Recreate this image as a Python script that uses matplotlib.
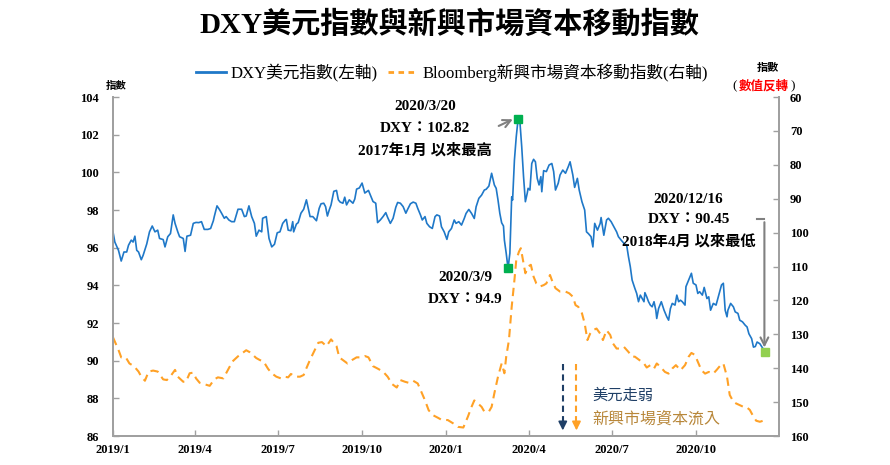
import pandas as pd
import matplotlib
matplotlib.use('Agg')
import matplotlib.pyplot as plt
from matplotlib.lines import Line2D

plt.rcParams['font.family'] = ['Liberation Serif', 'Noto Sans CJK TC']

# DXY (left axis)
dxy_dates = [
    '2019-01-01', '2019-01-03', '2019-01-07', '2019-01-10', '2019-01-13', '2019-01-16', '2019-01-18',
    '2019-01-21', '2019-01-23', '2019-01-25', '2019-01-27', '2019-01-29', '2019-02-01', '2019-02-03',
    '2019-02-07', '2019-02-10', '2019-02-13', '2019-02-16', '2019-02-19', '2019-02-21', '2019-02-25',
    '2019-02-27', '2019-03-02', '2019-03-05', '2019-03-08', '2019-03-10', '2019-03-13', '2019-03-15',
    '2019-03-19', '2019-03-21', '2019-03-23', '2019-03-27', '2019-03-30', '2019-04-02', '2019-04-05',
    '2019-04-08', '2019-04-11', '2019-04-15', '2019-04-18', '2019-04-21', '2019-04-22', '2019-04-25',
    '2019-04-28', '2019-04-30', '2019-05-03', '2019-05-05', '2019-05-08', '2019-05-11', '2019-05-14',
    '2019-05-18', '2019-05-22', '2019-05-25', '2019-05-27', '2019-05-30', '2019-06-02', '2019-06-05',
    '2019-06-07', '2019-06-10', '2019-06-13', '2019-06-14', '2019-06-18', '2019-06-21', '2019-06-24',
    '2019-06-27', '2019-06-30', '2019-07-03', '2019-07-06', '2019-07-09', '2019-07-10', '2019-07-12',
    '2019-07-15', '2019-07-17', '2019-07-18', '2019-07-21', '2019-07-23', '2019-07-26', '2019-07-29',
    '2019-08-01', '2019-08-03', '2019-08-05', '2019-08-08', '2019-08-12', '2019-08-15', '2019-08-17',
    '2019-08-20', '2019-08-22', '2019-08-24', '2019-08-26', '2019-08-28', '2019-08-31', '2019-09-03',
    '2019-09-05', '2019-09-07', '2019-09-10', '2019-09-12', '2019-09-14', '2019-09-17', '2019-09-19',
    '2019-09-21', '2019-09-23', '2019-09-25', '2019-09-28', '2019-10-01', '2019-10-04', '2019-10-08',
    '2019-10-10', '2019-10-13', '2019-10-16', '2019-10-18', '2019-10-21', '2019-10-24', '2019-10-27',
    '2019-10-29', '2019-11-01', '2019-11-04', '2019-11-07', '2019-11-09', '2019-11-12', '2019-11-15',
    '2019-11-18', '2019-11-20', '2019-11-23', '2019-11-26', '2019-11-29', '2019-12-01', '2019-12-04',
    '2019-12-06', '2019-12-09', '2019-12-11', '2019-12-14', '2019-12-17', '2019-12-20', '2019-12-22',
    '2019-12-25', '2019-12-27', '2019-12-30', '2020-01-02', '2020-01-04', '2020-01-07', '2020-01-10',
    '2020-01-12', '2020-01-15', '2020-01-18', '2020-01-21', '2020-01-23', '2020-01-26', '2020-01-29',
    '2020-02-01', '2020-02-03', '2020-02-06', '2020-02-09', '2020-02-12', '2020-02-14', '2020-02-17',
    '2020-02-20', '2020-02-23', '2020-02-25', '2020-02-27', '2020-02-29', '2020-03-02', '2020-03-04',
    '2020-03-05', '2020-03-07', '2020-03-09', '2020-03-11', '2020-03-13', '2020-03-14', '2020-03-16',
    '2020-03-18', '2020-03-20', '2020-03-22', '2020-03-24', '2020-03-26', '2020-03-28', '2020-03-30',
    '2020-03-31', '2020-04-02', '2020-04-04', '2020-04-06', '2020-04-08', '2020-04-10', '2020-04-12',
    '2020-04-14', '2020-04-15', '2020-04-17', '2020-04-20', '2020-04-23', '2020-04-26', '2020-04-28',
    '2020-04-30', '2020-05-03', '2020-05-05', '2020-05-08', '2020-05-11', '2020-05-14', '2020-05-16',
    '2020-05-19', '2020-05-21', '2020-05-24', '2020-05-26', '2020-05-29', '2020-06-01', '2020-06-03',
    '2020-06-05', '2020-06-08', '2020-06-10', '2020-06-12', '2020-06-15', '2020-06-18', '2020-06-19',
    '2020-06-22', '2020-06-25', '2020-06-27', '2020-06-30', '2020-07-03', '2020-07-06', '2020-07-08',
    '2020-07-11', '2020-07-14', '2020-07-17', '2020-07-19', '2020-07-21', '2020-07-23', '2020-07-26',
    '2020-07-28', '2020-07-30', '2020-08-01', '2020-08-03', '2020-08-05', '2020-08-06', '2020-08-08',
    '2020-08-10', '2020-08-12', '2020-08-14', '2020-08-16', '2020-08-18', '2020-08-19', '2020-08-21',
    '2020-08-24', '2020-08-27', '2020-08-30', '2020-09-01', '2020-09-03', '2020-09-05', '2020-09-08',
    '2020-09-10', '2020-09-12', '2020-09-14', '2020-09-16', '2020-09-19', '2020-09-20', '2020-09-23',
    '2020-09-26', '2020-09-28', '2020-10-01', '2020-10-03', '2020-10-05', '2020-10-08', '2020-10-10',
    '2020-10-13', '2020-10-15', '2020-10-17', '2020-10-20', '2020-10-23', '2020-10-26', '2020-10-29',
    '2020-10-31', '2020-11-02', '2020-11-04', '2020-11-05', '2020-11-08', '2020-11-11', '2020-11-13',
    '2020-11-16', '2020-11-18', '2020-11-21', '2020-11-24', '2020-11-26', '2020-11-28', '2020-12-01',
    '2020-12-03', '2020-12-05', '2020-12-07', '2020-12-10', '2020-12-12', '2020-12-16',
]
dxy_values = [
    96.84, 96.30, 95.86, 95.29, 95.77, 95.77, 96.13,
    96.40, 96.30, 96.61, 95.86, 95.77, 95.36, 95.59,
    96.20, 96.84, 97.15, 96.84, 96.93, 96.49, 96.43,
    96.04, 96.58, 96.75, 97.74, 97.29, 96.84, 96.58,
    96.49, 95.80, 96.61, 96.66, 97.29, 97.34, 97.33,
    97.38, 96.97, 96.97, 97.02, 97.43, 97.65, 98.22,
    98.00, 97.83, 97.56, 97.65, 97.47, 97.38, 97.38,
    98.04, 98.04, 97.65, 97.68, 98.22, 97.65, 97.29,
    96.61, 96.93, 96.84, 97.56, 97.65, 96.49, 96.04,
    96.18, 96.79, 96.84, 97.29, 97.47, 97.50, 96.93,
    96.90, 97.38, 96.84, 97.25, 97.33, 97.83, 98.04,
    98.54, 98.09, 97.65, 97.65, 97.43, 98.09, 98.33,
    98.36, 98.18, 97.68, 98.00, 98.27, 98.99, 99.04,
    98.54, 98.42, 98.36, 98.68, 98.27, 98.54, 98.45,
    98.36, 98.58, 99.11, 99.17, 99.43, 98.90, 99.04,
    98.81, 98.45, 98.36, 97.33, 97.47, 97.65, 97.86,
    97.61, 97.29, 97.56, 98.15, 98.40, 98.36, 98.18,
    97.83, 98.04, 98.33, 98.42, 98.36, 98.09, 97.74,
    97.47, 97.65, 97.29, 97.11, 97.02, 97.65, 97.74,
    97.68, 97.11, 96.84, 96.44, 96.84, 97.02, 97.47,
    97.29, 97.38, 97.20, 97.55, 97.82, 98.03, 97.82,
    97.55, 98.17, 98.62, 98.79, 99.06, 99.10, 99.27,
    99.95, 99.33, 99.15, 98.53, 97.82, 97.32, 97.15,
    96.40, 95.70, 94.90, 95.70, 98.70, 98.53, 100.65,
    101.89, 102.82, 102.69, 101.36, 99.77, 98.44, 98.88,
    99.15, 99.06, 100.47, 100.69, 100.56, 99.68, 99.33,
    99.77, 98.97, 100.09, 100.04, 100.39, 100.47, 100.04,
    99.06, 99.42, 99.86, 100.12, 99.95, 100.30, 100.56,
    99.86, 99.20, 99.68, 99.06, 98.44, 98.00, 96.84,
    96.75, 96.58, 96.04, 97.29, 96.93, 97.29, 97.60,
    96.66, 97.47, 97.56, 97.38, 97.11, 96.84, 96.58,
    96.40, 96.23, 96.14, 95.52, 94.99, 94.28, 93.84,
    93.57, 93.13, 93.48, 93.30, 93.13, 93.61, 93.39,
    93.13, 92.95, 92.86, 93.13, 92.68, 92.24, 92.77,
    93.13, 92.68, 92.33, 92.15, 92.77, 93.04, 92.95,
    93.48, 93.13, 93.21, 93.13, 92.95, 93.93, 94.28,
    94.64, 94.11, 94.02, 93.57, 93.66, 93.48, 93.89,
    93.30, 93.39, 92.68, 93.04, 92.95, 93.48, 94.02,
    94.11, 92.68, 92.33, 92.68, 93.04, 92.86, 92.59,
    92.51, 92.15, 92.06, 91.88, 91.79, 91.43, 91.17,
    90.72, 90.75, 90.99, 90.90, 90.75, 90.45,
]

# Bloomberg EM capital flow index (right axis, inverted)
em_dates = [
    '2019-01-01', '2019-01-07', '2019-01-10', '2019-01-15', '2019-01-19', '2019-01-24', '2019-01-29',
    '2019-02-01', '2019-02-05', '2019-02-09', '2019-02-14', '2019-02-19', '2019-02-25', '2019-03-01',
    '2019-03-06', '2019-03-10', '2019-03-13', '2019-03-19', '2019-03-22', '2019-03-26', '2019-03-30',
    '2019-04-02', '2019-04-06', '2019-04-11', '2019-04-17', '2019-04-22', '2019-04-26', '2019-05-02',
    '2019-05-07', '2019-05-12', '2019-05-18', '2019-05-22', '2019-05-27', '2019-05-31', '2019-06-03',
    '2019-06-07', '2019-06-11', '2019-06-15', '2019-06-20', '2019-06-24', '2019-06-29', '2019-07-04',
    '2019-07-08', '2019-07-12', '2019-07-15', '2019-07-20', '2019-07-25', '2019-07-29', '2019-08-01',
    '2019-08-05', '2019-08-09', '2019-08-14', '2019-08-18', '2019-08-23', '2019-08-28', '2019-09-03',
    '2019-09-06', '2019-09-11', '2019-09-15', '2019-09-20', '2019-09-25', '2019-09-29', '2019-10-04',
    '2019-10-08', '2019-10-13', '2019-10-18', '2019-10-24', '2019-10-29', '2019-11-03', '2019-11-08',
    '2019-11-12', '2019-11-17', '2019-11-21', '2019-11-26', '2019-12-01', '2019-12-05', '2019-12-09',
    '2019-12-13', '2019-12-18', '2019-12-23', '2019-12-27', '2020-01-03', '2020-01-09', '2020-01-14',
    '2020-01-20', '2020-01-25', '2020-01-29', '2020-02-01', '2020-02-05', '2020-02-09', '2020-02-12',
    '2020-02-17', '2020-02-20', '2020-02-23', '2020-02-27', '2020-03-02', '2020-03-05', '2020-03-07',
    '2020-03-10', '2020-03-13', '2020-03-16', '2020-03-18', '2020-03-21', '2020-03-23', '2020-03-26',
    '2020-03-28', '2020-03-31', '2020-04-03', '2020-04-06', '2020-04-09', '2020-04-13', '2020-04-17',
    '2020-04-20', '2020-04-24', '2020-04-26', '2020-04-30', '2020-05-05', '2020-05-11', '2020-05-15',
    '2020-05-19', '2020-05-22', '2020-05-25', '2020-05-29', '2020-06-01', '2020-06-04', '2020-06-07',
    '2020-06-10', '2020-06-14', '2020-06-18', '2020-06-21', '2020-06-25', '2020-06-29', '2020-07-02',
    '2020-07-06', '2020-07-09', '2020-07-14', '2020-07-19', '2020-07-23', '2020-07-26', '2020-07-31',
    '2020-08-05', '2020-08-08', '2020-08-12', '2020-08-16', '2020-08-19', '2020-08-23', '2020-08-28',
    '2020-09-01', '2020-09-05', '2020-09-09', '2020-09-14', '2020-09-19', '2020-09-23', '2020-09-26',
    '2020-09-30', '2020-10-03', '2020-10-07', '2020-10-11', '2020-10-15', '2020-10-20', '2020-10-24',
    '2020-10-28', '2020-10-31', '2020-11-04', '2020-11-07', '2020-11-11', '2020-11-14', '2020-11-18',
    '2020-11-22', '2020-11-25', '2020-11-29', '2020-12-03', '2020-12-06', '2020-12-10', '2020-12-16',
]
em_values = [
    130.9, 134.6, 136.8, 136.8, 138.6, 139.4, 141.0,
    142.5, 143.7, 141.0, 140.7, 141.0, 143.3, 143.5,
    142.0, 140.5, 142.5, 144.0, 144.0, 141.5, 141.3,
    143.0, 144.3, 144.7, 145.2, 143.3, 142.7, 143.0,
    140.5, 138.0, 136.5, 135.7, 134.7, 135.3, 136.0,
    137.0, 137.6, 138.0, 140.2, 141.5, 142.5, 143.0,
    142.5, 142.7, 141.7, 142.5, 142.5, 142.0, 140.0,
    137.5, 135.3, 132.5, 132.3, 133.5, 131.5, 133.5,
    136.8, 137.8, 138.6, 137.6, 136.8, 136.8, 136.4,
    136.8, 139.4, 140.1, 141.0, 142.5, 144.7, 145.7,
    143.5, 144.0, 144.3, 143.7, 144.5, 147.0, 149.5,
    152.4, 153.9, 154.6, 155.2, 155.3, 156.3, 157.3,
    157.5, 154.3, 151.4, 149.5, 150.4, 151.4, 152.8,
    152.8, 151.4, 147.4, 142.5, 138.6, 141.5, 136.6,
    131.7, 121.9, 114.0, 108.1, 105.6, 104.6, 109.1,
    112.0, 110.0, 109.5, 113.0, 115.0, 115.9, 115.5,
    115.0, 112.5, 114.0, 116.4, 117.4, 117.4, 117.9,
    118.9, 121.4, 121.9, 123.8, 126.8, 131.7, 129.8,
    128.8, 128.3, 129.8, 131.7, 128.8, 130.2, 132.7,
    134.2, 134.2, 133.7, 135.2, 136.6, 136.6, 137.6,
    138.6, 139.8, 139.1, 140.1, 138.6, 139.6, 141.1,
    141.6, 140.1, 139.1, 140.6, 139.1, 136.6, 135.5,
    136.1, 138.1, 140.6, 141.6, 141.1, 141.6, 140.4,
    139.1, 138.6, 142.5, 147.9, 149.9, 150.4, 150.9,
    151.4, 151.4, 152.3, 154.3, 155.5, 155.8, 155.3,
]

mark_dates = ['2020-03-20', '2020-03-09', '2020-12-16']
mark_values = [102.82, 94.9, 90.45]
mark_colors = ['#00B050', '#00B050', '#92D050']

x_ticks = ['2019-01-01', '2019-04-01', '2019-07-01', '2019-10-01',
           '2020-01-01', '2020-04-01', '2020-07-01', '2020-10-01']
x_labels = ['2019/1', '2019/4', '2019/7', '2019/10', '2020/1', '2020/4', '2020/7', '2020/10']
left_ticks = list(range(86, 105, 2))
right_ticks = list(range(60, 161, 10))

blue = '#1F78C8'
orange = '#FFA126'
grey = '#A0A0A0'
navy = '#1F3F66'
tan = '#B8873A'

W, H = 890, 465
fig = plt.figure(figsize=(W / 100, H / 100), dpi=100)
ax = fig.add_axes([113 / W, 1 - 436 / H, (779 - 113) / W, (436 - 97) / H])
ax2 = ax.twinx()
ax.set_zorder(ax2.get_zorder() + 1)
ax.patch.set_visible(False)

ax.plot(pd.to_datetime(dxy_dates), dxy_values, color=blue, lw=1.2)
ax2.plot(pd.to_datetime(em_dates), em_values, color=orange, lw=1.5, dashes=(4, 2.6))

for d, v, c in zip(mark_dates, mark_values, mark_colors):
    ax.plot(pd.Timestamp(d), v, 's', color=c, ms=6, zorder=5)

ax.set_xlim(pd.Timestamp('2019-01-01'), pd.Timestamp('2020-12-31'))
ax.set_ylim(86, 104)
ax2.set_ylim(160, 60)

ax.set_xticks(pd.to_datetime(x_ticks))
ax.set_xticklabels(x_labels, fontsize=9, fontweight='bold')
ax.set_yticks(left_ticks)
ax.set_yticklabels([str(t) for t in left_ticks], fontsize=9, fontweight='bold')
ax2.set_yticks(right_ticks)
ax2.set_yticklabels([str(t) for t in right_ticks], fontsize=9, fontweight='bold')

for a in (ax, ax2):
    a.spines['top'].set_visible(False)
    for s in ('left', 'right', 'bottom'):
        a.spines[s].set_color(grey)
        a.spines[s].set_linewidth(1.3)
    a.tick_params(direction='in', length=4, width=1, color=grey, pad=3)
ax.tick_params(axis='x', pad=6)
ax.tick_params(axis='y', pad=10)
ax2.tick_params(axis='y', pad=8)

# annotations
T = pd.Timestamp
for txt, y in zip(['2020/3/20', 'DXY：102.82', '2017年1月 以來最高'], [103.47, 102.33, 101.19]):
    ax.text(T('2019-12-09'), y, txt, ha='center', va='center', fontsize=11, fontweight='bold')
ax.annotate('', xy=(T('2020-03-17'), 102.88), xytext=(T('2020-02-25'), 102.4),
            arrowprops=dict(arrowstyle='->', color='#808080', lw=1.5, mutation_scale=14))

for txt, y in zip(['2020/3/9', 'DXY：94.9'], [94.39, 93.25]):
    ax.text(T('2020-01-22'), y, txt, ha='center', va='center', fontsize=11, fontweight='bold')

for txt, y in zip(['2020/12/16', 'DXY：90.45', '2018年4月 以來最低'], [98.58, 97.5, 96.33]):
    ax.text(T('2020-09-23'), y, txt, ha='center', va='center', fontsize=11, fontweight='bold')
ax.plot([T('2020-12-07'), T('2020-12-15')], [97.5, 97.5], color='#808080', lw=1.5)
ax.annotate('', xy=(T('2020-12-15'), 90.55), xytext=(T('2020-12-15'), 97.5),
            arrowprops=dict(arrowstyle='->', color='#808080', lw=1.5, mutation_scale=14))

# dashed arrows: dollar weakens / EM inflow
for d, c in [('2020-05-08', navy), ('2020-05-23', orange)]:
    ax.plot([T(d), T(d)], [89.8, 86.7], color=c, lw=1.5, ls='--', dashes=(3, 2))
    ax.annotate('', xy=(T(d), 86.15), xytext=(T(d), 86.8),
                arrowprops=dict(arrowstyle='-|>', color=c, lw=1.2, mutation_scale=13))
ax.text(T('2020-06-09'), 88.17, '美元走弱', color=navy, fontsize=11, va='center', ha='left')
ax.text(T('2020-06-09'), 86.85, '新興市場資本流入', color=tan, fontsize=11.5, va='center', ha='left')

# title, legend, axis captions
fig.text(449 / W, 1 - 25 / H, 'DXY美元指數與新興市場資本移動指數', ha='center', va='center',
         fontsize=21, fontweight='bold')
handles = [Line2D([], [], color=blue, lw=2),
           Line2D([], [], color=orange, lw=2, dashes=(2, 1.6))]
fig.legend(handles, ['DXY美元指數(左軸)', 'Bloomberg新興市場資本移動指數(右軸)'],
           loc='center', bbox_to_anchor=(452 / W, 1 - 73 / H), ncol=2, frameon=False,
           fontsize=12, handlelength=1.8, handletextpad=0.3, columnspacing=0.6)
fig.text(116 / W, 1 - 86 / H, '指數', ha='center', va='center', fontsize=7.5, fontweight='bold')
fig.text(768 / W, 1 - 68 / H, '指數', ha='center', va='center', fontsize=8, fontweight='bold')
fig.text(764 / W, 1 - 86 / H, '數值反轉', ha='center', va='center', fontsize=9,
         fontweight='bold', color='red')
fig.text(735 / W, 1 - 86 / H, '(', ha='center', va='center', fontsize=9.5)
fig.text(793 / W, 1 - 86 / H, ')', ha='center', va='center', fontsize=9.5)

fig.savefig('out.png', dpi=100)
